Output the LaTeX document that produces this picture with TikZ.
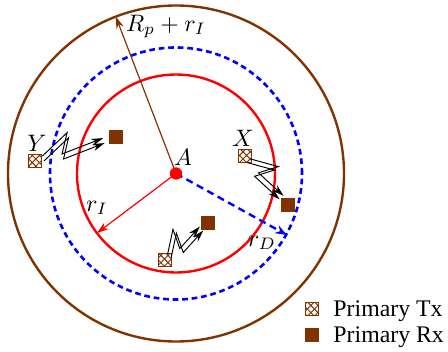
\documentclass[tikz,border=0pt]{standalone}
\usepackage{fontspec}
\setmainfont{Liberation Serif}
\usetikzlibrary{arrows.meta, calc, patterns}

\definecolor{pbrown}{RGB}{128,51,0}

% two parallel zigzag lines from a transmitter to a receiver
\newcommand{\radiolink}[2]{%
  \foreach \o in {-1.1,1.1}{%
    \draw[bolt] ($(#1)!0.1!(#2)!{\o*1pt}!90:(#2)$)
      -- ($(#1)!0.46!(#2)!{(6.5+\o)*1pt}!90:(#2)$)
      -- ($(#1)!0.33!(#2)!{(\o-1.5)*1pt}!90:(#2)$)
      -- ($(#1)!0.85!(#2)!{\o*1pt}!90:(#2)$);
  }%
}

\begin{document}
\begin{tikzpicture}[x=0.42pt, y=0.42pt,
        tx/.style={draw=pbrown, line width=0.4pt, pattern=crosshatch,
                   pattern color=pbrown, minimum size=5.6pt, inner sep=0pt},
        rx/.style={fill=pbrown, minimum size=5.8pt, inner sep=0pt},
        bolt/.style={-{Stealth[length=5pt, width=3pt]}, line width=0.4pt},
        lbl/.style={inner sep=0pt},
    ]
        \useasboundingbox (-176,-178.5) rectangle (272,173.5);
        \coordinate (o) at (0,0);

        % Rings
        \draw[pbrown, line width=1pt] (o) circle[radius=168];
        \draw[blue, line width=1.1pt, dash pattern=on 2.4pt off 1.6pt] (o) circle[radius=126];
        \draw[red, line width=1pt] (o) circle[radius=99];

        % Radii
        \coordinate (rp) at (111:168);
        \coordinate (ri) at (217:99);
        \coordinate (rd) at (-29:127);
        \draw[pbrown, line width=0.5pt, -{Stealth[length=5pt, width=3.2pt]}] (o) -- (rp);
        \draw[red, line width=0.5pt, -{Stealth[length=5pt, width=3.2pt]}] (o) -- (ri);
        \draw[blue, line width=1pt, dash pattern=on 3pt off 2pt,
              -{Stealth[length=5pt, width=3.6pt]}] (o) -- (rd);
        \node[circle, fill=red, inner sep=0pt, minimum size=5.2pt] (a) at (o) {};

        % Transmitters and receivers
        \node[tx] (ty) at (-141,12.5) {};
        \node[rx] (ry) at (-60,36.5) {};
        \node[tx] (tx) at (69,17.5) {};
        \node[rx] (rx) at (112,-31.5) {};
        \node[tx] (tb) at (-11,-86.5) {};
        \node[rx] (rb) at (32,-49.5) {};

        % Links
        \radiolink{ty}{ry}
        \radiolink{tx}{rx}
        \radiolink{tb}{rb}

        % Labels
        \node[lbl] (la) at (7,16.5) {$A$};
        \node[lbl] (lrp) at (-10,147) {$R_p + r_I$};
        \node[lbl] (lri) at (-79,-34.5) {$r_I$};
        \node[lbl] (lrd) at (86,-69.5) {$r_D$};
        \node[lbl] (ly) at (-139,30.5) {$Y$};
        \node[lbl] (lx) at (67,35.5) {$X$};

        % Legend
        \node[tx] (ltx) at (136,-135.5) {};
        \node[anchor=base west, inner sep=0pt] (ttx) at (157,-142.5) {Primary Tx};
        \node[rx] (lrx) at (136,-161.5) {};
        \node[anchor=base west, inner sep=0pt] (trx) at (157,-168.5) {Primary Rx};
\end{tikzpicture}
\end{document}
